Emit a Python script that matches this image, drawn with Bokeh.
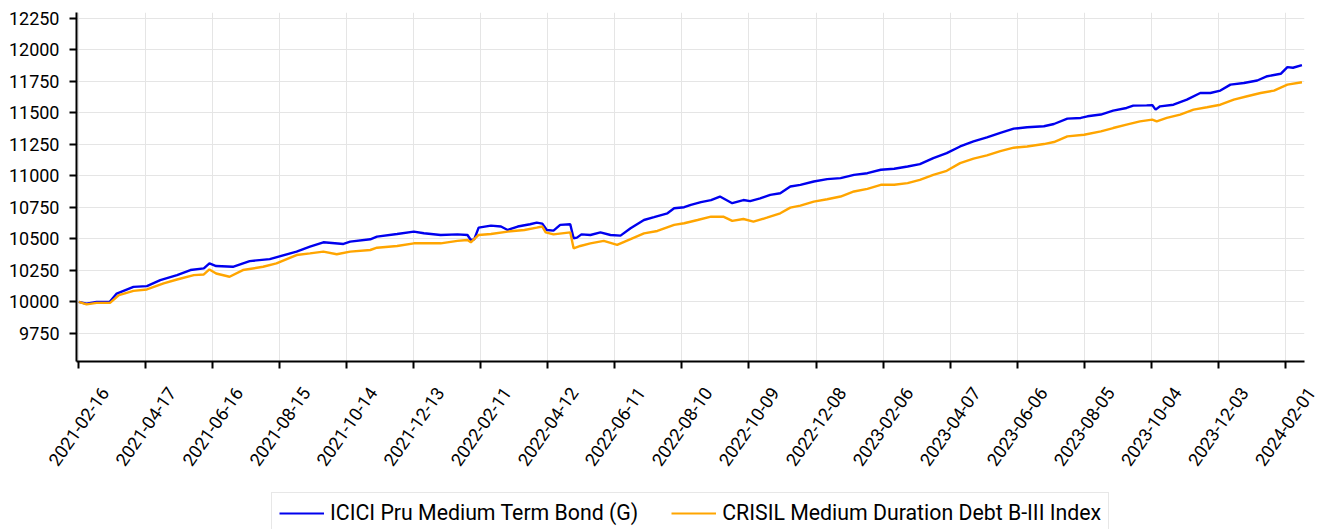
import pandas as pd
from bokeh.plotting import figure
from bokeh.layouts import column
from bokeh.models import (ColumnDataSource, FixedTicker, Legend, LegendItem,
                          LabelSet, Range1d, CustomJSTickFormatter)
from bokeh.core.properties import value
from bokeh.embed import file_html
from bokeh.resources import INLINE

START_DATE = "2021-02-16"
FUND_NAME = "ICICI Pru Medium Term Bond (G)"
BENCH_NAME = "CRISIL Medium Duration Debt B-III Index"

# days since START_DATE and values
fund_day = [0, 7, 16, 28, 34, 49, 61, 73, 88, 100, 112, 117, 123, 138, 153, 171,
            195, 207, 219, 237, 243, 261, 267, 285, 300, 309, 324, 339, 348, 351,
            354, 358, 369, 378, 384, 393, 404, 410, 415, 419, 425, 431, 440, 443,
            446, 450, 458, 467, 476, 485, 494, 506, 515, 527, 533, 542, 548, 557,
            566, 574, 585, 595, 601, 610, 619, 628, 637, 646, 658, 670, 682, 694,
            706, 718, 730, 742, 753, 765, 777, 789, 801, 813, 825, 837, 849, 864,
            873, 885, 897, 903, 915, 926, 938, 944, 956, 961, 964, 968, 980, 992,
            1004, 1013, 1022, 1031, 1043, 1055, 1064, 1076, 1082, 1087, 1095]
fund_value = [10000, 9985, 10000, 10002, 10066, 10119, 10125, 10172, 10212, 10252,
              10265, 10305, 10284, 10278, 10323, 10339, 10398, 10437, 10472, 10459,
              10477, 10496, 10517, 10538, 10557, 10544, 10530, 10535, 10530, 10490,
              10495, 10588, 10604, 10597, 10570, 10597, 10615, 10628, 10620, 10570,
              10565, 10610, 10615, 10504, 10509, 10535, 10530, 10551, 10530, 10525,
              10583, 10649, 10671, 10702, 10742, 10750, 10769, 10790, 10807, 10835,
              10782, 10807, 10799, 10820, 10848, 10861, 10914, 10927, 10954, 10973,
              10981, 11007, 11020, 11047, 11055, 11073, 11092, 11140, 11179, 11232,
              11272, 11304, 11340, 11373, 11384, 11392, 11410, 11453, 11458, 11471,
              11485, 11516, 11537, 11556, 11558, 11560, 11524, 11550, 11563, 11603,
              11656, 11656, 11675, 11722, 11735, 11755, 11789, 11808, 11861, 11856,
              11877]

bench_day = [0, 7, 16, 28, 36, 49, 61, 76, 88, 103, 112, 117, 123, 135, 147, 165,
             177, 195, 207, 219, 231, 243, 261, 267, 285, 300, 324, 339, 348, 351,
             358, 369, 384, 399, 410, 415, 418, 425, 440, 443, 449, 458, 470, 482,
             494, 506, 518, 533, 542, 554, 566, 577, 585, 595, 604, 616, 628, 637,
             646, 658, 670, 682, 694, 706, 718, 730, 742, 753, 765, 777, 789, 801,
             813, 825, 837, 849, 864, 873, 885, 900, 915, 926, 938, 950, 961, 965,
             974, 986, 998, 1010, 1022, 1034, 1046, 1058, 1070, 1082, 1095]
bench_value = [10000, 9980, 9992, 9992, 10053, 10087, 10098, 10146, 10177, 10212,
               10217, 10257, 10225, 10199, 10252, 10278, 10305, 10371, 10384, 10398,
               10377, 10398, 10411, 10429, 10443, 10464, 10464, 10483, 10490, 10472,
               10530, 10538, 10557, 10570, 10588, 10597, 10551, 10535, 10551, 10424,
               10443, 10464, 10483, 10451, 10498, 10543, 10562, 10610, 10623, 10649,
               10676, 10675, 10642, 10657, 10636, 10667, 10702, 10747, 10763, 10795,
               10813, 10835, 10875, 10896, 10928, 10928, 10941, 10967, 11007, 11039,
               11100, 11135, 11161, 11195, 11222, 11232, 11251, 11267, 11312, 11325,
               11352, 11378, 11405, 11431, 11445, 11431, 11458, 11485, 11524, 11543,
               11563, 11603, 11630, 11656, 11675, 11722, 11741]

x_tick_labels = ["2021-02-16", "2021-04-17", "2021-06-16", "2021-08-15", "2021-10-14",
                 "2021-12-13", "2022-02-11", "2022-04-12", "2022-06-11", "2022-08-10",
                 "2022-10-09", "2022-12-08", "2023-02-06", "2023-04-07", "2023-06-06",
                 "2023-08-05", "2023-10-04", "2023-12-03", "2024-02-01"]
y_ticks = [9750, 10000, 10250, 10500, 10750, 11000, 11250, 11500, 11750, 12000, 12250]

FONT = "Roboto"
FUND_COLOR = "#0000ee"
BENCH_COLOR = "#ffa500"
LINE_W = 2.4

# ---- layout constants (pixels) ----
W = 1323
H_MAIN = 371           # frame bottom at 361
H_LAB = 529 - H_MAIN   # strip holding date labels and legend
BORDER_L, BORDER_R, BORDER_T, BORDER_B = 76, 19, 12, 10
FRAME_W = W - BORDER_L - BORDER_R
X_PAD_BEFORE, X_SPAN = 2.0, 1099.3   # days
PX_PER_DAY = FRAME_W / X_SPAN

start = pd.Timestamp(START_DATE)
fund_dates = start + pd.to_timedelta(fund_day, unit="D")
bench_dates = start + pd.to_timedelta(bench_day, unit="D")
tick_dates = pd.to_datetime(x_tick_labels)
tick_ms = [int(t.value // 10**6) for t in tick_dates]

x0 = start - pd.Timedelta(days=X_PAD_BEFORE)
p = figure(width=W, height=H_MAIN, x_axis_type="datetime",
           output_backend="svg", toolbar_location=None,
           x_range=Range1d(x0, x0 + pd.Timedelta(days=X_SPAN)),
           y_range=Range1d(9527, 12294),
           min_border_left=BORDER_L, min_border_right=BORDER_R,
           min_border_top=BORDER_T, min_border_bottom=BORDER_B)
p.frame_align = False
p.outline_line_color = None

fund_src = ColumnDataSource(dict(x=fund_dates, y=fund_value))
bench_src = ColumnDataSource(dict(x=bench_dates, y=bench_value))
p.line("x", "y", source=fund_src, line_color=FUND_COLOR, line_width=LINE_W)
p.line("x", "y", source=bench_src, line_color=BENCH_COLOR, line_width=LINE_W)

p.xaxis.ticker = FixedTicker(ticks=tick_ms)
p.xaxis.formatter = CustomJSTickFormatter(code="return ''")
p.yaxis.ticker = FixedTicker(ticks=y_ticks)
for ax in (p.xaxis[0], p.yaxis[0]):
    ax.axis_line_width = 2
    ax.axis_line_color = "black"
    ax.major_tick_line_width = 2
    ax.major_tick_line_color = "black"
    ax.major_tick_out = 7
    ax.major_tick_in = 0
    ax.minor_tick_line_color = None
    ax.major_label_text_font = FONT
    ax.major_label_text_color = "black"
p.yaxis.major_label_text_font_size = "18px"
p.yaxis.major_label_standoff = 10
p.xaxis.major_label_text_font_size = "0px"
p.xaxis.major_label_standoff = 0

p.xgrid.grid_line_color = "#e5e5e5"
p.ygrid.grid_line_color = "#e5e5e5"

# ---- strip below: rotated date labels centred on the ticks, and the legend ----
lx0 = x0 - pd.Timedelta(days=BORDER_L / PX_PER_DAY)
q = figure(width=W, height=H_LAB, output_backend="svg", toolbar_location=None,
           x_axis_type="datetime", x_axis_location=None, y_axis_location=None,
           x_range=Range1d(lx0, lx0 + pd.Timedelta(days=W / PX_PER_DAY)),
           y_range=Range1d(0, H_LAB),
           min_border_left=0, min_border_right=0, min_border_top=0, min_border_bottom=0)
q.frame_align = False
q.outline_line_color = None
for g in q.grid:
    g.visible = False

LABEL_CENTER_FROM_TOP = 426 - H_MAIN
lab_src = ColumnDataSource(dict(x=tick_dates, y=[H_LAB - LABEL_CENTER_FROM_TOP] * len(tick_ms),
                                text=x_tick_labels))
q.add_layout(LabelSet(x="x", y="y", text="text", source=lab_src, angle=0.96,
                      text_align="center", text_baseline="middle",
                      text_font=value(FONT), text_font_size="18px", text_color="black"))

# the same series, out of this strip's view, serve as the legend keys
key_fund = q.line("x", "y", source=fund_src, line_color=FUND_COLOR, line_width=2)
key_bench = q.line("x", "y", source=bench_src, line_color=BENCH_COLOR, line_width=2)
legend = Legend(items=[LegendItem(label=FUND_NAME, renderers=[key_fund]),
                       LegendItem(label=BENCH_NAME, renderers=[key_bench])],
                orientation="horizontal", location=(271, -4),
                label_text_font=FONT, label_text_font_size="21.3px",
                label_text_color="black",
                glyph_width=45, glyph_height=20, label_standoff=6, spacing=33,
                padding=7, margin=0,
                border_line_color="#d0d0d0", border_line_width=1.5,
                background_fill_color="white", background_fill_alpha=1)
q.add_layout(legend)

layout = column(p, q, spacing=0)
open("out.html", "w").write(file_html(layout, INLINE))
